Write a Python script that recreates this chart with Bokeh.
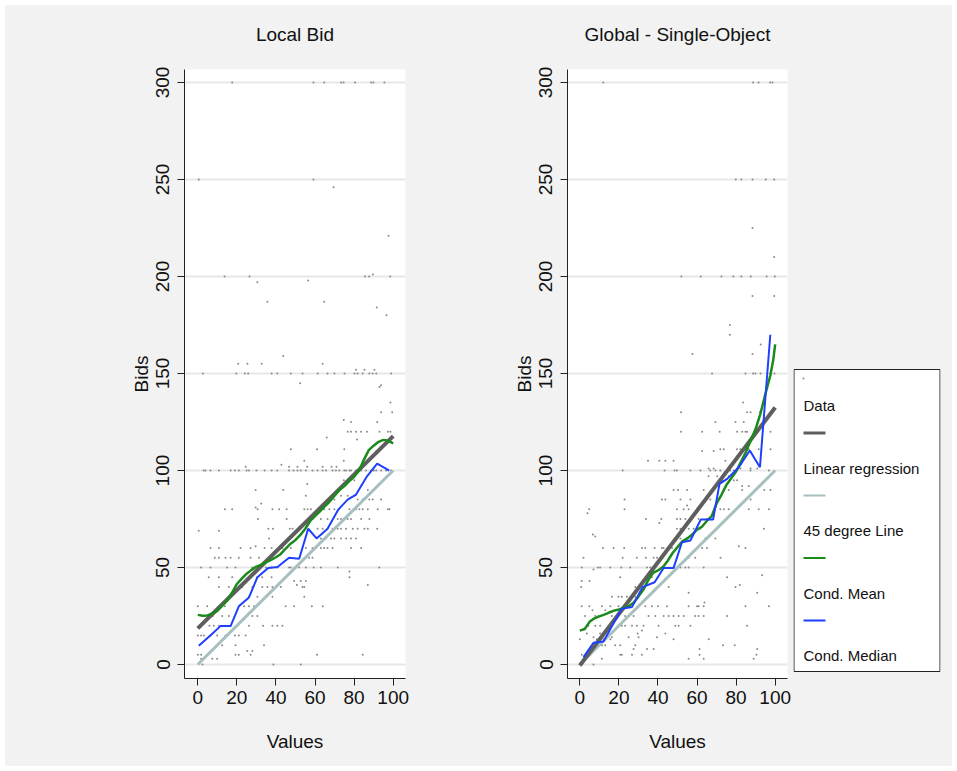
from bokeh.plotting import figure
from bokeh.layouts import row
from bokeh.models import FixedTicker, Range1d
from bokeh.embed import file_html
from bokeh.resources import INLINE
from bokeh.core.properties import value

FONT = "Liberation Sans"
BG = "#f2f2f2"
TXT = "#111111"

# ---------------- data ----------------
titles = ["Local Bid", "Global - Single-Object"]
x_ticks = [0, 20, 40, 60, 80, 100]
y_ticks = [0, 50, 100, 150, 200, 250, 300]
legend_labels = ["Data", "Linear regression", "45 degree Line", "Cond. Mean", "Cond. Median"]

# Local Bid: scatter grouped by bid level
local_levels = [300, 250, 246, 221, 201, 200, 198, 197, 187, 184, 180, 159, 155, 152, 150, 145, 144, 143,
                135, 130, 126, 125, 120, 117, 116, 111, 105, 103, 102, 100, 95, 93, 90, 87, 85, 83, 81, 80,
                75, 70, 69, 65, 61, 60, 55, 50, 48, 45, 43, 41, 40, 35, 30, 25, 20, 15, 10, 7, 5, 3, 0]
local_values = [
    [17.6, 59.2, 64.7, 73.3, 74.6, 80.5, 88.7, 89.9, 95.5],
    [0.5, 59.2], [69.5], [97.6], [89.6],
    [13.7, 26.5, 85.6, 87.7, 98.5],
    [56.5], [30.5], [35.6, 64.7], [91.6], [96.6], [43.7],
    [20.7, 25.4, 32.7, 63.9],
    [81.0, 85.3, 90.4],
    [2.6, 19.7, 24.1, 25.8, 37.8, 40.7, 47.6, 53.6, 61.4, 66.4, 69.9, 75.1, 80.2, 81.8, 84.4, 87.8, 89.5, 91.3, 99.0],
    [52.4], [93.8], [93.0], [98.6], [93.8, 99.5], [74.7], [78.4, 91.8],
    [76.7, 78.4, 81.0, 83.6, 86.6, 93.0, 97.3, 98.6],
    [66.0], [81.5], [47.6, 61.0, 75.0], [54.5, 74.7], [42.8],
    [24.5, 46.7, 51.0, 56.0, 63.9, 68.5, 71.0],
    [3.0, 3.9, 6.5, 10.8, 16.8, 19.0, 21.0, 25.0, 26.2, 30.0, 34.2, 37.8, 40.7, 46.7, 49.0, 51.0, 52.7, 55.3,
     58.7, 61.3, 63.9, 65.6, 69.0, 70.7, 72.4, 75.0, 75.9, 77.6, 78.4, 81.0, 83.6, 86.1, 88.7, 90.1, 91.3, 93.8, 96.4, 99.0],
    [74.7, 77.6, 80.1], [56.0], [29.6, 43.7, 87.0], [55.3, 73.3, 76.7],
    [66.4, 68.2, 69.9, 81.8, 84.4, 87.8, 89.5, 93.8],
    [32.5], [29.6],
    [13.9, 17.6, 30.6, 38.2, 41.6, 45.5, 54.5, 56.2, 57.9, 62.2, 64.7, 67.3, 69.9, 72.4, 77.6, 81.0, 82.7, 84.4, 87.0, 92.1, 97.3, 98.1],
    [30.8, 45.5, 58.7, 63.0, 66.4, 71.6, 73.3, 76.7, 78.4, 83.6, 87.8],
    [36.1, 38.5, 47.1, 48.5, 61.3, 63.9, 66.4, 69.0, 71.6, 73.3, 75.9, 79.3, 81.8, 85.3, 87.0, 91.8],
    [0.5, 10.8],
    [36.5, 63.0, 65.6, 68.2, 69.9, 73.3, 75.9, 78.4, 81.0],
    [29.6],
    [6.5, 10.8, 21.9, 27.0, 34.2, 37.8, 43.3, 47.6, 55.3, 58.7, 60.4, 63.0, 64.7, 66.4, 69.0, 78.4, 83.6],
    [8.7, 10.8, 14.2, 16.8, 21.0, 27.0, 31.3, 37.3, 57.0, 58.7],
    [1.7, 6.5, 15.0, 19.3, 27.9, 34.8, 37.8, 40.7, 46.7, 47.6, 51.9, 55.3, 59.3, 63.0, 71.6, 92.9],
    [77.6],
    [5.6, 10.8, 17.6, 30.5, 33.0, 37.8, 77.6],
    [49.3, 52.7, 55.3], [50.7, 87.0],
    [10.8, 15.9, 22.8, 27.9, 33.0, 35.6, 38.2, 42.5, 53.6, 54.5],
    [26.2, 30.5, 38.2, 54.5],
    [0.0, 4.8, 10.8, 13.9, 23.6, 26.2, 28.8, 45.0, 49.3, 58.4, 64.0],
    [7.7, 12.5, 15.9, 27.9, 30.5],
    [6.0, 8.2, 10.8, 14.2, 20.2, 26.2, 33.4, 38.2, 40.7, 43.3],
    [0.0, 1.7, 3.1, 6.5, 9.9, 14.2, 19.0, 21.0, 24.5],
    [12.5, 19.3, 33.9], [25.3, 27.9],
    [0.0, 1.7, 4.8, 19.3, 21.0, 27.0, 61.0, 84.4],
    [1.7, 3.1, 7.4, 9.9],
    [2.4, 38.7, 52.7],
]

# Global - Single-Object: scatter grouped by bid level
global_levels = [300, 250, 225, 210, 200, 190, 175, 170, 165, 160, 150, 135, 130, 125, 120, 111, 110, 105, 101,
                 100, 97, 95, 92, 90, 85, 82, 80, 78, 75, 73, 70, 67, 66, 65, 61, 60, 55, 50, 49, 46, 45, 43, 41,
                 40, 37, 35, 32, 30, 28, 25, 20, 17.5, 16, 14, 13, 10, 8, 5, 3, 0]
global_values = [
    [12.0, 88.7, 91.5, 97.4, 98.6],
    [79.8, 82.7, 88.4, 95.2, 99.5],
    [88.4], [99.5],
    [52.0, 61.9, 72.5, 78.6, 82.7, 87.5, 95.6, 99.8],
    [88.4, 99.5], [76.8], [76.8], [92.6], [57.6, 88.4],
    [67.7, 84.8, 88.7, 89.9, 92.5, 97.6, 99.6],
    [83.6], [51.8, 85.6, 87.4, 92.1], [69.4, 79.7, 83.9],
    [51.8, 62.6, 71.6, 80.5, 83.1, 84.8, 85.6, 90.8, 97.6],
    [71.9, 73.7, 80.5, 82.2, 86.5, 91.6, 97.6],
    [62.6, 68.5],
    [34.9, 40.7, 43.8, 48.0, 74.5],
    [66.0, 68.5, 82.2, 87.4, 90.8],
    [21.9, 43.4, 48.5, 49.7, 56.6, 61.7, 66.8, 69.4, 71.9, 77.0, 78.8, 87.4, 96.8],
    [65.9, 70.3, 72.8, 76.2], [72.8, 78.8, 80.5], [83.1, 86.5],
    [48.0, 50.3, 54.9, 63.4, 73.7, 76.2, 83.1, 94.4, 97.6],
    [22.9, 42.0, 43.8, 51.5, 56.6, 66.8, 87.4],
    [54.9],
    [4.8, 22.9, 49.7, 53.2, 55.7, 60.0, 71.9, 73.7, 76.2, 86.5, 91.6, 96.8],
    [3.9],
    [33.8, 41.7, 49.7, 51.5, 54.0, 57.4, 60.8, 65.1],
    [40.7],
    [49.7, 51.5, 53.2, 55.7, 58.3, 60.0, 61.7, 94.2],
    [6.7], [7.9],
    [51.5, 54.9, 64.3, 69.4],
    [81.4],
    [11.8, 17.3, 22.7, 31.8, 33.5, 38.3, 42.0, 42.9, 45.5, 47.2, 60.0, 62.6, 65.1, 84.8],
    [1.9, 21.9, 29.2, 33.8, 37.8, 39.5, 49.7, 55.7, 59.1, 72.0],
    [1.0, 9.2, 10.4, 15.6, 21.2, 25.8, 34.4, 36.1, 51.5, 54.0, 55.7, 63.4],
    [7.0], [93.3], [20.7, 36.9, 75.4], [1.0, 5.0], [81.9],
    [0.7, 28.4, 45.5, 79.7], [55.7, 90.8],
    [16.4, 19.8, 21.5, 24.1, 28.4],
    [63.8],
    [1.0, 4.9, 11.3, 15.6, 19.8, 23.2, 33.5, 36.9, 40.0, 44.6, 55.7, 60.0, 60.8, 63.4, 84.8, 96.8],
    [6.5, 13.0],
    [2.7, 7.9, 9.6, 16.4, 23.2, 27.5, 35.2, 38.6, 42.9, 45.5, 48.0, 50.6, 53.2, 59.1, 60.8, 63.4, 75.4],
    [4.4, 7.9, 10.4, 21.5, 23.2, 26.7, 29.2, 32.6, 40.3, 48.9, 50.6, 56.6, 85.6],
    [31.8],
    [3.6, 10.4, 29.6, 43.8],
    [7.0, 11.3, 16.4, 25.0, 30.1, 39.5],
    [0.0, 8.7, 12.1, 15.6, 48.0, 66.0],
    [7.9, 11.3, 13.0, 18.1, 20.7, 28.4, 73.3, 79.3],
    [27.5, 34.4, 37.8, 61.3, 90.8],
    [1.0, 5.3, 20.7, 21.5, 26.7, 31.8, 61.3, 90.4],
    [1.9, 11.3, 55.7, 63.4, 89.0],
    [7.0],
]

# Linear regression endpoints
local_reg_x = [0, 100]
local_reg_y = [18.6, 117.7]
global_reg_x = [0, 100]
global_reg_y = [-0.5, 132.5]

# 45 degree line
diag_x = [0, 100]
diag_y = [0, 100]

# Conditional mean (green)
local_mean_x = [0, 2.5, 5, 7.5, 10, 12.5, 15, 17.5, 20, 22.5, 25, 27.5, 30, 32.5, 35, 37.5, 40, 42.5, 45, 47.5,
                50, 52.5, 55, 57.5, 60, 62.5, 65, 67.5, 70, 72.5, 75, 77.5, 80, 82.5, 85, 87.5, 90, 92.5, 95, 97.5, 100]
local_mean_y = [25.6, 25.2, 25.3, 26.3, 27.7, 30.3, 33.0, 37.0, 41.5, 44.3, 46.8, 48.8, 50.5, 51.5, 52.8, 54.0,
                55.3, 57.0, 59.8, 62.3, 64.2, 66.8, 70.0, 74.0, 76.5, 79.0, 81.5, 84.0, 87.0, 90.0, 92.0, 94.5,
                96.8, 100.0, 105.5, 110.5, 112.8, 114.8, 115.8, 115.3, 114.0]
global_mean_x = [0, 2.5, 5, 7.5, 10, 12.5, 15, 17.5, 20, 22.5, 25, 27.5, 30, 32.5, 35, 37.5, 40, 42.5, 45, 47.5,
                 50, 52.5, 55, 57.5, 60, 62.5, 65, 67.5, 70, 72.5, 75, 77.5, 80, 82.5, 85, 87.5, 90, 92.5, 95, 97.5, 99, 100]
global_mean_y = [17.5, 18.3, 22.0, 23.8, 24.8, 25.7, 26.8, 27.8, 28.4, 29.2, 30.0, 31.8, 35.0, 38.5, 43.5, 47.3,
                 48.5, 50.2, 53.5, 57.5, 60.5, 63.5, 65.0, 67.0, 69.5, 71.0, 74.0, 76.5, 83.0, 87.5, 92.5, 96.0,
                 99.5, 104.5, 109.5, 115.6, 121.5, 129.5, 139.5, 149.0, 157.0, 165.0]

# Conditional median (blue)
local_med_x = [0.5, 7, 11.6, 16.8, 21, 26.2, 30.5, 36, 40.8, 46.7, 51.9, 56.5, 60.8, 66.4, 72, 76.7, 81, 86.6, 91.8, 98]
local_med_y = [9.7, 15.5, 19.8, 19.8, 30, 34.6, 45, 49.8, 50.3, 55, 54.5, 70, 65, 70, 80, 85, 87.6, 97, 103.5, 100]
global_med_x = [1.9, 7, 12.1, 16, 21.5, 26.7, 32.1, 38.3, 42.9, 48, 52.3, 56.6, 61.9, 68.2, 71.5, 75.4, 81.4, 87, 92.2, 97.5]
global_med_y = [3.8, 11.2, 11.9, 19, 28.7, 29.6, 39.9, 42.4, 49.8, 49.8, 63, 63.9, 74.7, 74.7, 93.1, 95.7, 101.7, 110.3, 101.7, 170]

# ---------------- styles ----------------
C_DATA = "#8a8a8a"
C_REG = "#5e5e5e"
C_DIAG = "#a7bfbf"
C_MEAN = "#1a8a1a"
C_MED = "#1f3fff"

H = 761
B_TOP = 64
B_BOT = 88
FRAME_H = H - B_TOP - B_BOT


def expand(levels, values):
    xs, ys = [], []
    for lv, vals in zip(levels, values):
        for v in vals:
            xs.append(v)
            ys.append(lv)
    return xs, ys


def panel(title, width, bl, br, xr, levels, values, rx, ry, mx, my, dx, dy):
    p = figure(width=width, height=H, x_range=Range1d(*xr), y_range=Range1d(-7.2, 306.7),
               output_backend="svg", toolbar_location=None, title=title + "\n",
               min_border_left=bl, min_border_right=br, min_border_top=B_TOP, min_border_bottom=B_BOT)
    p.background_fill_color = "white"
    p.border_fill_color = BG
    p.outline_line_color = None
    p.title.align = "center"
    p.title.text_font = FONT
    p.title.text_font_size = "19px"
    p.title.text_font_style = "normal"
    p.title.text_color = TXT
    p.title.standoff = 8

    p.xgrid.visible = False
    p.ygrid.ticker = FixedTicker(ticks=y_ticks)
    p.ygrid.grid_line_color = "#e8e8e8"
    p.ygrid.grid_line_width = 2

    for ax, ticks, lab in ((p.xaxis[0], x_ticks, "Values"), (p.yaxis[0], y_ticks, "Bids")):
        ax.ticker = FixedTicker(ticks=ticks)
        ax.axis_label = lab
        ax.axis_label_text_font = FONT
        ax.axis_label_text_font_size = "19px"
        ax.axis_label_text_font_style = "normal"
        ax.axis_label_text_color = TXT
        ax.major_label_text_font = FONT
        ax.major_label_text_font_size = "19px"
        ax.major_label_text_color = TXT
        ax.major_tick_out = 7
        ax.major_tick_in = 0
        ax.minor_tick_out = 0
        ax.minor_tick_in = 0
        ax.axis_line_color = "#222222"
        ax.major_tick_line_color = "#222222"
    p.xaxis.major_label_standoff = 5
    p.xaxis.axis_label_standoff = 24
    p.yaxis.major_label_orientation = "vertical"
    p.yaxis.major_label_standoff = 8
    p.yaxis.axis_label_standoff = 2

    sx, sy = expand(levels, values)
    p.scatter(sx, sy, marker="circle", size=2.0, fill_color=C_DATA, line_color=None)
    p.line(diag_x, diag_y, line_color=C_DIAG, line_width=3)
    p.line(rx, ry, line_color=C_REG, line_width=4)
    p.line(mx, my, line_color=C_MEAN, line_width=2.5)
    p.line(dx, dy, line_color=C_MED, line_width=2)
    return p


p1 = panel(titles[0], 435, 179, 35, (-6.8, 106.3), local_levels, local_values,
           local_reg_x, local_reg_y, local_mean_x, local_mean_y, local_med_x, local_med_y)
p2 = panel(titles[1], 353, 127, 6, (-6.3, 106.3), global_levels, global_values,
           global_reg_x, global_reg_y, global_mean_x, global_mean_y, global_med_x, global_med_y)

# legend panel (pixel coordinates inside its frame, y downward)
LG_W = 147
lg = figure(width=159, height=H, x_range=Range1d(0, LG_W), y_range=Range1d(FRAME_H, 0),
            output_backend="svg", toolbar_location=None, x_axis_location=None, y_axis_location=None,
            min_border_left=0, min_border_right=12, min_border_top=B_TOP, min_border_bottom=B_BOT)
lg.background_fill_color = BG
lg.border_fill_color = BG
lg.outline_line_color = None
lg.grid.visible = False

box_top = 300
box_bot = 602
lg.quad(left=[0.5], right=[LG_W - 0.5], top=[box_top], bottom=[box_bot],
        fill_color="white", line_color="#222222", line_width=1)

label_y = [box_top + 36 + 62.5 * i for i in range(len(legend_labels))]
lg.text(x=[10] * len(legend_labels), y=label_y, text=legend_labels, text_font=value(FONT),
        text_font_size="15px", text_baseline="middle", text_color=TXT)
lg.scatter([10], [label_y[0] - 27], marker="circle", size=2.0, fill_color=C_DATA, line_color=None)
key_colors = [C_REG, C_DIAG, C_MEAN, C_MED]
key_widths = [3, 2, 2, 2]
key_y = [label_y[i + 1] - 35 for i in range(4)]
lg.segment(x0=[10] * 4, x1=[32] * 4, y0=key_y, y1=key_y, line_color=key_colors, line_width=key_widths)

layout = row(p1, p2, lg, margin=(5, 0, 0, 5))
layout.background = BG
open("out.html", "w").write(file_html(layout, INLINE))
